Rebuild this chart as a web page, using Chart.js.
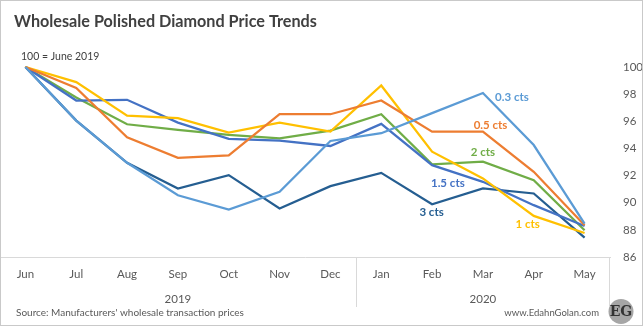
<!DOCTYPE html>
<html>
<head>
<meta charset="utf-8">
<script src="https://cdn.jsdelivr.net/npm/chart.js@4.4.1/dist/chart.umd.min.js"></script>
<style>
  html, body { margin: 0; padding: 0; background: #fff; }
  #wrap { width: 643px; height: 326px; }
</style>
</head>
<body>
<div id="wrap"><canvas id="chart" width="643" height="326"></canvas></div>
<script>
const months = ['Jun', 'Jul', 'Aug', 'Sep', 'Oct', 'Nov', 'Dec', 'Jan', 'Feb', 'Mar', 'Apr', 'May'];
const years = [{ label: '2019', from: 0, to: 6 }, { label: '2020', from: 7, to: 11 }];
const yTicks = [86, 88, 90, 92, 94, 96, 98, 100];

// price index, 100 = June 2019
const cts03 = [100, 96.05, 92.94, 90.55, 89.5, 90.8, 94.55, 95.12, 96.6, 98.08, 94.25, 88.46];
const cts05 = [100, 98.45, 94.82, 93.31, 93.49, 96.52, 96.52, 97.53, 95.24, 95.24, 92.28, 88.34];
const cts1  = [100, 98.89, 96.42, 96.23, 95.16, 95.9, 95.24, 98.64, 93.76, 91.79, 89.03, 87.77];
const cts15 = [100, 97.53, 97.58, 95.9, 94.7, 94.57, 94.18, 95.81, 92.77, 91.54, 89.82, 88.29];
const cts2  = [100, 97.75, 95.78, 95.36, 94.99, 94.75, 95.31, 96.52, 92.83, 93.02, 91.66, 87.97];
const cts3  = [100, 96.05, 92.94, 91.05, 92.03, 89.57, 91.22, 92.2, 89.89, 91.05, 90.68, 87.43];

const series = [
  { name: '0.3 cts', data: cts03, color: '#5b9bd5', at: [9.57, 97.8] },
  { name: '0.5 cts', data: cts05, color: '#ed7d31', at: [9.15, 95.73] },
  { name: '1 cts',   data: cts1,  color: '#ffc000', at: [9.88, 88.41] },
  { name: '1.5 cts', data: cts15, color: '#4472c4', at: [8.31, 91.44] },
  { name: '2 cts',   data: cts2,  color: '#70ad47', at: [9.0, 93.74] },
  { name: '3 cts',   data: cts3,  color: '#255e91', at: [7.99, 89.3] },
];

const FONT = 'Lato, "Open Sans", sans-serif';
const lineGrey = '#d9d9d9';

// text, frame and group dividers around the plot
const decor = {
  id: 'decor',
  beforeDraw(chart) {
    const { ctx, width, height } = chart;
    ctx.save();
    ctx.fillStyle = '#fff';
    ctx.fillRect(0, 0, width, height);
    ctx.restore();
  },
  afterDraw(chart) {
    const { ctx, width, height, chartArea } = chart;
    const x = chart.scales.x, y = chart.scales.y;
    ctx.save();

    // outer frame
    ctx.strokeStyle = '#c9c9c9';
    ctx.lineWidth = 1;
    ctx.strokeRect(0.5, 0.5, width - 1, height - 1);

    // title + note
    ctx.fillStyle = '#404040';
    ctx.textBaseline = 'alphabetic';
    ctx.textAlign = 'left';
    ctx.font = 'bold 16.2px ' + FONT;
    ctx.fillText('Wholesale Polished Diamond Price Trends', 14, 27);
    ctx.font = '10.5px ' + FONT;
    ctx.fillText('100 = June 2019', 21, 60);

    // category box: right edge and year divider
    const top = chartArea.bottom;
    const half = (x.getPixelForValue(1) - x.getPixelForValue(0)) / 2;
    ctx.strokeStyle = lineGrey;
    ctx.beginPath();
    const right = Math.round(x.getPixelForValue(months.length - 1) + half) - 0.5;
    ctx.moveTo(right, top); ctx.lineTo(right, 306);
    const div = Math.round(x.getPixelForValue(years[1].from) - half) + 0.5;
    ctx.moveTo(div, top); ctx.lineTo(div, 307);
    ctx.stroke();

    // year labels centred under their months
    ctx.fillStyle = '#595959';
    ctx.font = '11.5px ' + FONT;
    ctx.textAlign = 'center';
    ctx.textBaseline = 'middle';
    years.forEach(g => {
      const cx = (x.getPixelForValue(g.from) + x.getPixelForValue(g.to)) / 2;
      ctx.fillText(g.label, cx, 299);
    });

    // series names beside their lines
    ctx.font = 'bold 11.5px ' + FONT;
    series.forEach(s => {
      ctx.fillStyle = s.color;
      ctx.fillText(s.name, x.getPixelForValue(s.at[0]), y.getPixelForValue(s.at[1]));
    });

    // footer
    ctx.fillStyle = '#595959';
    ctx.font = '10px ' + FONT;
    ctx.textAlign = 'left';
    ctx.fillText("Source: Manufacturers' wholesale transaction prices", 16, 313);
    ctx.textAlign = 'right';
    ctx.font = '9.5px ' + FONT;
    ctx.fillText('www.EdahnGolan.com', 599, 313);

    // EG badge
    ctx.fillStyle = '#a6a6a6';
    ctx.beginPath();
    ctx.arc(621, 311.5, 12.5, 0, Math.PI * 2);
    ctx.fill();
    ctx.fillStyle = '#333';
    ctx.textAlign = 'center';
    ctx.font = 'bold 14px "DejaVu Serif", serif';
    ctx.fillText('EG', 621, 312.5);

    ctx.restore();
  }
};

new Chart(document.getElementById('chart'), {
  type: 'line',
  data: {
    labels: months,
    datasets: series.map(s => ({
      label: s.name,
      data: s.data,
      borderColor: s.color,
      backgroundColor: s.color,
      borderWidth: 2.25,
      pointRadius: 0,
      tension: 0,
      clip: false,
    }))
  },
  options: {
    responsive: false,
    animation: false,
    events: [],
    layout: { padding: { top: 67, left: 0, right: 0, bottom: 0 } },
    plugins: { legend: { display: false }, title: { display: false }, tooltip: { enabled: false } },
    scales: {
      x: {
        type: 'category',
        offset: true,
        grid: { display: false, drawTicks: false },
        border: { display: true, color: lineGrey, width: 1 },
        ticks: { color: '#595959', font: { family: FONT, size: 11.5 }, padding: 10, maxRotation: 0, autoSkip: false },
        afterFit(scale) { scale.height = 69; }
      },
      y: {
        position: 'right',
        min: 86,
        max: 100,
        afterBuildTicks(scale) { scale.ticks = yTicks.map(v => ({ value: v })); },
        grid: { display: false, drawTicks: false },
        border: { display: false },
        ticks: { color: '#595959', font: { family: FONT, size: 11.5 }, padding: 13 },
        afterFit(scale) { scale.width = 33; }
      }
    }
  },
  plugins: [decor]
});
</script>
</body>
</html>
